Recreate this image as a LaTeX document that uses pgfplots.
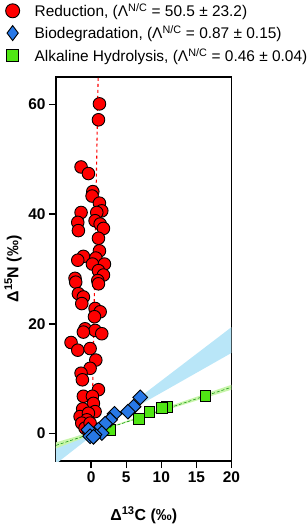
\documentclass[border=0pt]{standalone}
\usepackage{pgfplots}
\pgfplotsset{compat=1.18}
\usepackage{fontspec}
\setmainfont{Liberation Sans}
\definecolor{redc}{RGB}{255,0,0}
\definecolor{bluec}{RGB}{40,120,230}
\definecolor{greenc}{RGB}{80,230,20}
\definecolor{bandblue}{RGB}{185,230,248}
\definecolor{bandgreen}{RGB}{200,245,170}
\begin{document}
\begin{tikzpicture}
\begin{axis}[
  name=ax,
  scale only axis,
  width=175.5bp, height=384bp,
  xmin=-5, xmax=20, ymin=-5, ymax=65,
  xtick={0,5,10,15,20}, ytick={0,20,40,60},
  tick align=outside, tickpos=left,
  major tick length=7bp,
  every tick/.style={black, line width=1.3bp},
  axis line style={line width=1.3bp},
  /pgf/number format/assume math mode=true,
  tick label style={font=\bfseries\fontsize{15.5}{17}\selectfont},
  xlabel={\bfseries Δ\textsuperscript{13}C (‰)},
  ylabel={\bfseries Δ\textsuperscript{15}N (‰)},
  label style={font=\bfseries\fontsize{16}{18}\selectfont},
  xlabel style={at={(axis description cs:0.5,-0.1406)}, anchor=center},
  ylabel style={at={(axis description cs:-0.245,0.5)}, anchor=center},
  legend style={at={(axis description cs:-0.288,1.197)}, anchor=north west,
    draw=none, fill=none, inner sep=0pt, row sep=3.8bp,
    font=\fontsize{15.5}{17}\selectfont,
    /tikz/every odd column/.append style={column sep=13bp}},
  legend cell align=left,
]
% confidence bands
\addplot[fill=bandblue, draw=none, forget plot] coordinates {(-5,-2.4)(2.5,2.3)(20,19.4)(20,14.7)(2.5,2.0)(-5,-5.5)} -- cycle;
\addplot[fill=bandgreen, draw=none, forget plot] coordinates {(-5,-1.6)(3,1.4)(20,8.9)(20,8.0)(3,1.2)(-5,-2.7)} -- cycle;
\addplot[green!55!black, densely dashed, line width=0.5bp, forget plot] coordinates {(-5,-2.15)(20,8.45)};
% reduction fit
\addplot[redc, dashed, line width=1.1bp, forget plot] coordinates {(0.12,0)(1.0,65)};
% reduction
\addplot[only marks, mark=*, mark size=6.3bp, mark options={fill=redc, draw=black, line width=0.9bp}, forget plot] coordinates {
(1.19,60.1)(1.05,57.2)(-1.43,48.6)(-0.38,47.4)(0.24,44.1)(0.14,43.3)(1.19,42.0)(-1.43,40.3)(1.52,40.6)(0.81,40.3)(-1.9,38.5)(0.57,38.8)(1.29,38.2)(1.76,37.4)(-1.81,37.0)(1.05,35.6)(1.19,33.3)(-1.1,32.3)(-1.9,31.6)(0.67,32.0)(0.19,30.9)(1.9,30.9)(1.05,29.7)(1.76,28.9)(-2.29,28.3)(0.95,27.9)(-2.19,27.6)(1.05,27.3)(-1.81,25.5)(-1.1,24.9)(-1.33,23.7)(0.57,22.8)(1.29,22.2)(0.48,21.3)(-0.86,19.1)(0.57,18.8)(1.52,18.2)(-1.1,18.5)(-2.86,16.6)(-1.9,15.2)(-0.14,15.5)(0.67,13.4)(-0.14,11.9)(-1.43,11.0)(-1.24,9.8)(1.05,8.0)(-1.1,6.8)(0.19,6.8)(0.33,5.5)(0.57,4.0)(-1.2,4.5)(-1.57,3.1)(-0.38,3.7)(-0.6,2.5)(-1.33,1.9)(-0.86,1.0)(-0.14,1.9)(-0.3,0.3)
};
% alkaline hydrolysis
\addplot[only marks, mark=square*, mark size=5.4bp, mark options={fill=greenc, draw=black, line width=0.9bp}, forget plot] coordinates {
(16.3,6.8)(10.8,4.9)(10.1,4.6)(8.3,3.9)(6.76,2.6)(2.7,0.6)(0.5,0.2)
};
% biodegradation
\addplot[only marks, mark=square*, mark size=5.2bp, mark options={fill=bluec, draw=black, line width=0.9bp, rotate=45}, forget plot] coordinates {
(7.0,6.6)(6.05,4.9)(5.24,4.0)(3.33,3.6)(2.71,2.5)(2.0,1.8)(1.05,0.7)(1.52,0.1)(0.48,-0.2)(-0.38,0.7)(-0.14,-0.5)(0.33,-0.6)
};
% legend
\addlegendimage{only marks, mark=*, mark size=7bp, mark options={fill=redc, draw=black, line width=0.9bp}}
\addlegendentry{Reduction, (Λ\textsuperscript{N/C} = 50.5 ± 23.2)}
\addlegendimage{only marks, mark=diamond*, mark size=7.5bp, mark options={fill=bluec, draw=black, line width=0.9bp}}
\addlegendentry{Biodegradation, (Λ\textsuperscript{N/C} = 0.87 ± 0.15)}
\addlegendimage{only marks, mark=square*, mark size=6bp, mark options={fill=greenc, draw=black, line width=0.9bp}}
\addlegendentry{Alkaline Hydrolysis, (Λ\textsuperscript{N/C} = 0.46 ± 0.04)}
\end{axis}
\pgfresetboundingbox
\useasboundingbox ([shift={(-56bp,-63bp)}]ax.south west) rectangle ([shift={(251bp,461bp)}]ax.south west);
\end{tikzpicture}
\end{document}
